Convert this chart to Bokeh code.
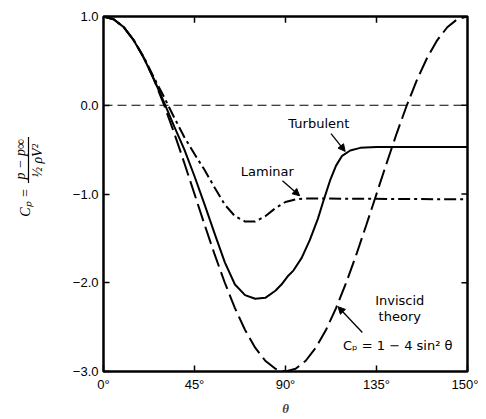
import math
from bokeh.plotting import figure
from bokeh.layouts import row
from bokeh.models import Range1d, FixedTicker, Span, Label, Arrow, NormalHead
from bokeh.embed import file_html
from bokeh.resources import INLINE

# ---- data ----
theta_inviscid = [0, 5, 10, 15, 20, 25, 30, 35, 40, 45, 50, 55, 60, 65, 70, 75, 80, 85, 90,
                  95, 100, 105, 110, 115, 120, 125, 130, 135, 140, 145, 150, 155, 160, 165, 170, 175, 180]
cp_inviscid = [1.0, 0.970, 0.879, 0.732, 0.532, 0.286, 0.0, -0.316, -0.653, -1.0, -1.347, -1.684,
               -2.0, -2.286, -2.532, -2.732, -2.879, -2.970, -3.0,
               -2.970, -2.879, -2.732, -2.532, -2.286, -2.0, -1.684, -1.347, -1.0, -0.653, -0.316,
               0.0, 0.286, 0.532, 0.732, 0.879, 0.970, 1.0]

theta_turbulent = [0, 5, 10, 15, 20, 25, 30, 35, 40, 45, 50, 55, 60, 65, 70, 75, 80, 85, 88, 91,
                   94, 98, 102, 106, 109, 112, 115, 118, 122, 127, 135, 180]
cp_turbulent = [1.0, 0.97, 0.88, 0.73, 0.53, 0.29, 0.03, -0.24, -0.50, -0.80, -1.12, -1.45, -1.77,
                -2.02, -2.14, -2.18, -2.17, -2.09, -2.02, -1.93, -1.86, -1.72, -1.52, -1.28, -1.06,
                -0.85, -0.68, -0.57, -0.51, -0.48, -0.47, -0.47]

theta_laminar = [0, 5, 10, 15, 20, 25, 30, 35, 40, 45, 50, 55, 60, 65, 70, 75, 80, 85, 90, 95, 100, 180]
cp_laminar = [1.0, 0.97, 0.88, 0.73, 0.54, 0.31, 0.09, -0.14, -0.36, -0.55, -0.73, -0.93, -1.12,
              -1.25, -1.31, -1.31, -1.25, -1.16, -1.09, -1.06, -1.05, -1.06]

x_ticks = [0, 45, 90, 135, 180]
x_tick_labels = ["0°", "45°", "90°", "135°", "150°"]
y_ticks = [1, 0, -1, -2, -3]
y_tick_labels = ["1.0", "0.0", "−1.0", "−2.0", "−3.0"]
top_ticks = [45, 90, 135]
right_ticks = [0, -1, -2]

FONT = "Liberation Sans"
AFONT = "DejaVu Sans"
MFONT = "Liberation Serif"
H = 418

# ---------- main chart ----------
p = figure(width=418, height=H, x_range=Range1d(0, 180), y_range=Range1d(-3, 1),
           output_backend="svg", toolbar_location=None,
           min_border_left=43, min_border_right=11, min_border_top=16, min_border_bottom=44)
p.background_fill_color = "white"
p.border_fill_color = "white"
p.xgrid.visible = False
p.ygrid.visible = False
p.outline_line_color = "black"
p.outline_line_width = 2.5
p.outline_line_alpha = 1.0

xa = p.xaxis[0]
xa.ticker = FixedTicker(ticks=x_ticks)
xa.major_label_overrides = {t: l for t, l in zip(x_ticks, x_tick_labels)}
xa.axis_label = "θ"
xa.axis_label_text_font = MFONT
xa.axis_label_text_font_style = "bold italic"
xa.axis_label_text_font_size = "13px"
xa.axis_label_standoff = 6

ya = p.yaxis[0]
ya.ticker = FixedTicker(ticks=y_ticks)
ya.major_label_overrides = {t: l for t, l in zip(y_ticks, y_tick_labels)}

for ax in (xa, ya):
    ax.axis_line_color = None
    ax.major_tick_in = 6
    ax.major_tick_out = 0
    ax.major_tick_line_width = 1.5
    ax.minor_tick_line_color = None
    ax.major_label_text_font = FONT
    ax.major_label_text_font_size = "13px"
    ax.major_label_text_color = "black"
    ax.major_label_standoff = 5

# inward ticks on the top and right edges
tick_len_y = 0.07
tick_len_x = 3.0
p.segment(x0=top_ticks, y0=[1] * len(top_ticks), x1=top_ticks,
          y1=[1 - tick_len_y] * len(top_ticks), line_color="black", line_width=1.5)
p.segment(x0=[180] * len(right_ticks), y0=right_ticks, x1=[180 - tick_len_x] * len(right_ticks),
          y1=right_ticks, line_color="black", line_width=1.5)

# zero line
p.add_layout(Span(location=0, dimension="width", line_color="black",
                  line_width=1.2, line_dash="9 5"))

# curves
p.line(theta_inviscid, cp_inviscid, line_color="black", line_width=2, line_dash="18 6")
p.line(theta_laminar, cp_laminar, line_color="black", line_width=2, line_dash="12 4 3 4")
p.line(theta_turbulent, cp_turbulent, line_color="black", line_width=2)

def lab(x, y, text, size="13px", style="normal", font=AFONT):
    p.add_layout(Label(x=x, y=y, text=text, text_font=font, text_font_size=size,
                       text_align="center", text_baseline="middle", text_color="black",
                       text_font_style=style))

lab(106.5, -0.21, "Turbulent")
lab(81, -0.75, "Laminar")
lab(146.5, -2.20, "Inviscid")
lab(146.5, -2.38, "theory")
lab(145.5, -2.71, "Cₚ = 1 − 4 sin² θ")

def arrow(x0, y0, x1, y1):
    p.add_layout(Arrow(x_start=x0, y_start=y0, x_end=x1, y_end=y1, line_width=1.3,
                       line_color="black",
                       end=NormalHead(size=7, fill_color="black", line_color="black")))

arrow(112.5, -0.32, 119.5, -0.52)
arrow(88.5, -0.85, 97.0, -1.02)
arrow(128.0, -2.56, 116.0, -2.27)

# ---------- y-axis label panel (fraction, rotated) ----------
q = figure(width=60, height=H, x_range=Range1d(0, 60), y_range=Range1d(H, 0),
           output_backend="svg", toolbar_location=None,
           x_axis_location=None, y_axis_location=None,
           min_border_left=0, min_border_right=0, min_border_top=0, min_border_bottom=0)
q.outline_line_color = None
q.xgrid.visible = False
q.ygrid.visible = False
q.background_fill_color = "white"
q.border_fill_color = "white"

def rlab(x, y, text, size="14px"):
    q.add_layout(Label(x=x, y=y, text=text, text_font=MFONT, text_font_size=size,
                       text_font_style="italic", text_align="center", text_baseline="middle",
                       angle=math.pi / 2, text_color="black"))

rlab(25, 219, "Cₚ =")
rlab(20, 168, "p − p∞")
rlab(37, 170, "½ ρV²")
q.add_layout(Arrow(x_start=28, y_start=196, x_end=28, y_end=142, line_width=1.2,
                   line_color="black", start=None, end=None))

layout = row(q, p)
open("out.html", "w").write(file_html(layout, INLINE))
